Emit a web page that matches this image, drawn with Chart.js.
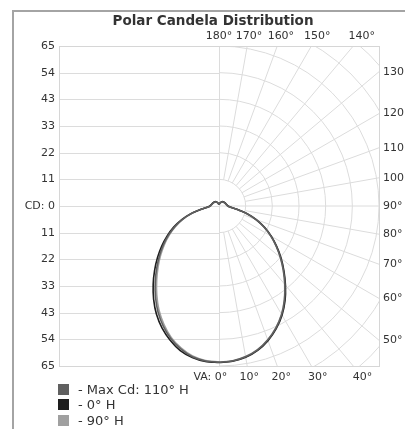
<!DOCTYPE html>
<html>
<head>
<meta charset="utf-8">
<script src="https://cdn.jsdelivr.net/npm/chart.js@4.4.0/dist/chart.umd.min.js"></script>
<style>
  html, body { margin: 0; padding: 0; background: #fff; width: 405px; height: 429px; overflow: hidden; }
  #frame { position: absolute; left: 12px; top: 10px; width: 400px; height: 430px; border-left: 2px solid #a4a4a4; border-top: 2px solid #a4a4a4; }
  #polar { position: absolute; left: 0; top: 0; }
  #legend { position: absolute; left: 58px; top: 382px; font: 13px "DejaVu Sans"; color: #333; }
  .row { height: 15.3px; display: flex; align-items: center; white-space: nowrap; }
  .sw { width: 11px; height: 11px; margin-right: 9px; }
</style>
</head>
<body>
<div id="frame"></div>
<canvas id="polar" width="426" height="429"></canvas>
<div id="legend"></div>
<script>
// vertical angles (VA) and candela values, left half / right half of each plane
const vaAngles = [0, 5, 10, 15, 20, 25, 30, 35, 40, 45, 50, 55, 60, 65, 70, 75, 80, 85, 90, 100, 110, 120, 130, 140, 150, 160, 170, 180];
const maxCdRight = [63.5, 63.2, 62.2, 60.5, 57.9, 54.7, 50.9, 46.4, 41.7, 37.0, 32.6, 28.4, 24.3, 20.2, 15.9, 11.4, 7.0, 4.5, 3.6, 3.1, 2.8, 2.6, 2.4, 2.2, 1.8, 1.3, 0.8, 0.5];
const maxCdLeft = [63.5, 63.2, 62.2, 60.1, 57.3, 53.7, 49.6, 45.0, 40.3, 35.8, 31.6, 27.6, 23.7, 19.8, 15.8, 11.4, 7.0, 4.5, 3.6, 3.1, 2.8, 2.6, 2.4, 2.2, 1.8, 1.3, 0.8, 0.5];
const h0Right = [63.6, 63.3, 62.4, 60.7, 58.2, 55.0, 51.2, 46.8, 42.0, 37.3, 32.9, 28.6, 24.5, 20.4, 16.1, 11.6, 7.2, 4.6, 3.7, 3.2, 2.9, 2.7, 2.5, 2.3, 1.9, 1.4, 0.9, 0.6];
const h0Left = [63.6, 63.4, 62.5, 60.8, 58.0, 54.7, 50.8, 46.3, 41.6, 37.0, 32.6, 28.4, 24.3, 20.3, 16.1, 11.6, 7.2, 4.6, 3.7, 3.2, 2.9, 2.7, 2.5, 2.3, 1.9, 1.4, 0.9, 0.6];
const h90Right = [63.4, 63.1, 62.1, 60.4, 57.8, 54.6, 50.8, 46.3, 41.5, 36.9, 32.5, 28.3, 24.2, 20.1, 15.8, 11.3, 6.9, 4.4, 3.5, 3.0, 2.8, 2.6, 2.4, 2.2, 1.8, 1.3, 0.8, 0.5];
const h90Left = [63.4, 63.0, 61.9, 59.7, 56.8, 53.0, 48.8, 44.1, 39.4, 35.0, 30.9, 27.0, 23.2, 19.4, 15.5, 11.2, 6.9, 4.4, 3.5, 3.0, 2.8, 2.6, 2.4, 2.2, 1.8, 1.3, 0.8, 0.5];

const seriesLabels = ["- Max Cd: 110° H", "- 0° H", "- 90° H"];
const seriesColors = ["#606060", "#1e1e1e", "#a0a0a0"];

const maxCd = 65;
const yTickLabels = ["65", "54", "43", "33", "22", "11", "CD: 0", "11", "22", "33", "43", "54", "65"];
const topAngles = [180, 170, 160, 150, 140];
const rightAngles = [130, 120, 110, 100, 90, 80, 70, 60, 50];
const bottomAngles = [0, 10, 20, 30, 40];
const gridAngles = [10, 20, 30, 40, 50, 60, 70, 80, 90, 100, 110, 120, 130, 140, 150, 160, 170];
const ringCount = 8;

// polar (VA, cd) -> x/y in candela units, left half first, then right half
function polarPoints(left, right) {
  let pts = [];
  for (let i = vaAngles.length - 1; i >= 0; i--) {
    let a = vaAngles[i] * Math.PI / 180;
    pts.push({ x: -left[i] * Math.sin(a), y: -left[i] * Math.cos(a) });
  }
  for (let i = 0; i < vaAngles.length; i++) {
    let a = vaAngles[i] * Math.PI / 180;
    pts.push({ x: right[i] * Math.sin(a), y: -right[i] * Math.cos(a) });
  }
  return pts;
}

const polarGrid = {
  id: "polarGrid",
  beforeDatasetsDraw(chart) {
    const { ctx, chartArea: ca, scales: { x, y } } = chart;
    const cx = x.getPixelForValue(0), cy = y.getPixelForValue(0);
    const rad = v => cy - y.getPixelForValue(v);
    const step = maxCd / 6;
    ctx.save();
    ctx.beginPath();
    ctx.rect(ca.left, ca.top, ca.width, ca.height);
    ctx.clip();
    ctx.strokeStyle = "#dcdcdc";
    ctx.lineWidth = 1;

    ctx.beginPath();
    y.ticks.forEach(t => {
      let yy = Math.round(y.getPixelForValue(t.value)) + 0.5;
      ctx.moveTo(ca.left, yy);
      ctx.lineTo(cx, yy);
    });
    ctx.moveTo(Math.round(cx) + 0.5, ca.top);
    ctx.lineTo(Math.round(cx) + 0.5, ca.bottom);
    ctx.stroke();

    for (let k = 1; k <= ringCount; k++) {
      ctx.beginPath();
      ctx.arc(cx, cy, rad(k * step), -Math.PI / 2, Math.PI / 2);
      ctx.stroke();
    }

    ctx.beginPath();
    gridAngles.forEach(g => {
      let a = g * Math.PI / 180;
      let r0 = g === 90 ? 0 : rad(step);
      let r1 = rad(maxCd * 2);
      ctx.moveTo(cx + r0 * Math.sin(a), cy + r0 * Math.cos(a));
      ctx.lineTo(cx + r1 * Math.sin(a), cy + r1 * Math.cos(a));
    });
    ctx.stroke();
    ctx.restore();

    ctx.save();
    ctx.strokeStyle = "#d6d6d6";
    ctx.strokeRect(ca.left + 0.5, ca.top + 0.5, ca.width, ca.height);
    ctx.restore();
  },
  afterDraw(chart) {
    const { ctx, chartArea: ca, scales: { x, y } } = chart;
    const cx = x.getPixelForValue(0), cy = y.getPixelForValue(0);
    ctx.save();
    ctx.font = "11px 'DejaVu Sans'";
    ctx.fillStyle = "#333";
    ctx.textBaseline = "middle";

    ctx.textAlign = "center";
    let ty = ca.top - 10;
    topAngles.forEach(g => {
      let a = g * Math.PI / 180;
      let t = (cy - ty) / -Math.cos(a);
      ctx.fillText(g + "°", cx + t * Math.sin(a), ty);
    });

    ctx.textAlign = "left";
    rightAngles.forEach(g => {
      let a = g * Math.PI / 180;
      let t = (ca.right - cx) / Math.sin(a);
      ctx.fillText(g + "°", ca.right + 4, cy + t * Math.cos(a));
    });

    let by = ca.bottom + 11;
    bottomAngles.forEach(g => {
      let a = g * Math.PI / 180;
      let t = (by - cy) / Math.cos(a);
      let bx = cx + t * Math.sin(a);
      if (g === 0) {
        ctx.textAlign = "right";
        ctx.fillText("VA: 0°", bx + ctx.measureText("0°").width / 2 + 2, by);
      } else {
        ctx.textAlign = "center";
        ctx.fillText(g + "°", bx, by);
      }
    });
    ctx.restore();
  }
};

const pointSets = [
  polarPoints(maxCdLeft, maxCdRight),
  polarPoints(h0Left, h0Right),
  polarPoints(h90Left, h90Right)
];

Chart.defaults.font.family = "'DejaVu Sans'";

new Chart(document.getElementById("polar"), {
  type: "scatter",
  data: {
    datasets: pointSets.map((pts, i) => ({
      label: seriesLabels[i],
      data: pts,
      showLine: true,
      borderColor: seriesColors[i],
      borderWidth: 1.6,
      pointRadius: 0,
      tension: 0.3,
      fill: false
    }))
  },
  options: {
    responsive: false,
    animation: false,
    layout: { padding: { left: 0, right: 0, top: 0, bottom: 63 } },
    plugins: {
      legend: { display: false },
      tooltip: { enabled: false },
      title: {
        display: true,
        text: "Polar Candela Distribution",
        color: "#333",
        font: { size: 13.5, weight: "bold" },
        padding: { top: 12.9, bottom: 16.9 }
      }
    },
    scales: {
      x: { type: "linear", display: false, min: -maxCd, max: maxCd },
      y: {
        type: "linear",
        min: -maxCd,
        max: maxCd,
        grid: { display: false, drawTicks: false },
        border: { display: false },
        afterBuildTicks: scale => {
          scale.ticks = yTickLabels.map((l, i) => ({ value: -maxCd + i * maxCd / 6 }));
        },
        afterFit: scale => { scale.width = 59; },
        ticks: {
          color: "#333",
          font: { size: 11 },
          padding: 4,
          autoSkip: false,
          callback: (v, i) => yTickLabels[i]
        }
      },
      // empty box on the right that keeps room for the angle labels
      yRight: {
        type: "linear",
        axis: "y",
        position: "right",
        min: -maxCd,
        max: maxCd,
        grid: { display: false, drawTicks: false },
        border: { display: false },
        ticks: { display: false },
        afterFit: scale => { scale.width = 47; }
      }
    }
  },
  plugins: [polarGrid]
});

document.getElementById("legend").innerHTML = seriesLabels.map((l, i) =>
  '<div class="row"><span class="sw" style="background:' + seriesColors[i] + '"></span>' + l + '</div>'
).join("");
</script>
</body>
</html>
